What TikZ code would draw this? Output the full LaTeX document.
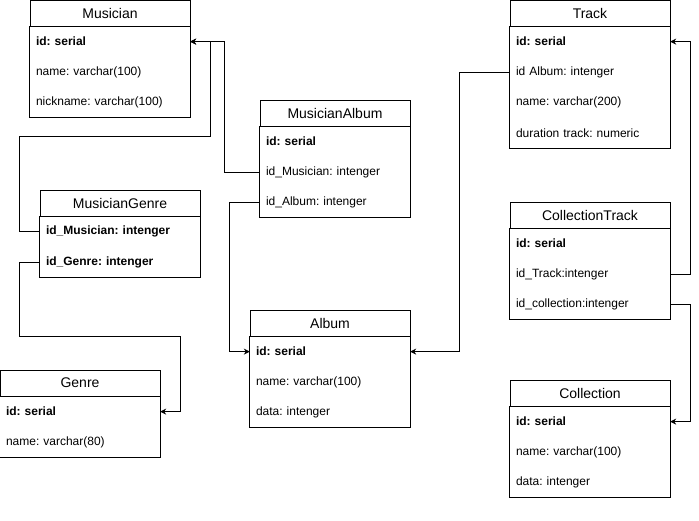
\documentclass[tikz,border=0pt]{standalone}
\usepackage{fontspec}
\setmainfont{Liberation Sans}
\frenchspacing
\usetikzlibrary{arrows.meta, positioning}
\tikzset{
  tblhead/.style={draw,line width=0.8pt,minimum width=#1,minimum height=26pt,inner sep=0pt,font=\fontsize{14}{16}\selectfont},
  tblhead/.default=160pt,
  tblrow/.style={minimum height=30pt,text width=#1,inner xsep=6pt,inner ysep=0pt,align=left,font=\fontsize{12}{14}\selectfont},
  tblrow/.default=148pt,
  tblkey/.style={tblrow=#1,font=\fontsize{12}{14}\selectfont\bfseries},
  tblkey/.default=148pt,
  tblframe/.style={draw,line width=0.8pt},
  fk/.style={line width=0.8pt,-{Stealth[length=6pt,width=6pt]}},
}
\begin{document}
\begin{tikzpicture}[x=1pt,y=-1pt]
	\useasboundingbox (0,0) rectangle (699,520);
	\node[tblhead] (mus) at (110,13) {Musician};
	\node[tblkey,below=0pt of mus] (mus-id) {id: serial};
	\node[tblrow,below=0pt of mus-id] (mus-name) {name: varchar(100)};
	\node[tblrow,below=0pt of mus-name] (mus-nick) {nickname: varchar(100)};
	\draw[tblframe] (mus.south west) rectangle (mus-nick.south east);
	\node[tblhead=150pt] (ma) at (335,113) {MusicianAlbum};
	\node[tblkey=138pt,below=0pt of ma] (ma-id) {id: serial};
	\node[tblrow=138pt,below=0pt of ma-id] (ma-mus) {id\_Musician: intenger};
	\node[tblrow=138pt,below=0pt of ma-mus] (ma-alb) {id\_Album: intenger};
	\draw[tblframe] (ma.south west) rectangle (ma-alb.south east);
	\node[tblhead] (mg) at (120,203) {MusicianGenre};
	\node[tblkey,below=0pt of mg] (mg-mus) {id\_Musician: intenger};
	\node[tblkey,below=0pt of mg-mus] (mg-gen) {id\_Genre: intenger};
	\draw[tblframe] (mg.south west) rectangle (mg-gen.south east);
	\node[tblhead] (gen) at (80,383) {Genre};
	\node[tblkey,below=0pt of gen] (gen-id) {id: serial};
	\node[tblrow,below=0pt of gen-id] (gen-name) {name: varchar(80)};
	\draw[tblframe] (gen.south west) rectangle (gen-name.south east);
	\node[tblhead] (alb) at (330,323) {Album};
	\node[tblkey,below=0pt of alb] (alb-id) {id: serial};
	\node[tblrow,below=0pt of alb-id] (alb-name) {name: varchar(100)};
	\node[tblrow,below=0pt of alb-name] (alb-data) {data: intenger};
	\draw[tblframe] (alb.south west) rectangle (alb-data.south east);
	\node[tblhead] (tr) at (590,13) {Track};
	\node[tblkey,below=0pt of tr] (tr-id) {id: serial};
	\node[tblrow,below=0pt of tr-id] (tr-alb) {id Album: intenger};
	\node[tblrow,below=0pt of tr-alb] (tr-name) {name: varchar(200)};
	\node[tblrow,below=0pt of tr-name] (tr-dur) {duration track: numeric};
	\draw[tblframe] (tr.south west) rectangle (tr-dur.south east);
	\node[tblhead] (ct) at (590,215) {CollectionTrack};
	\node[tblkey,below=0pt of ct] (ct-id) {id: serial};
	\node[tblrow,below=0pt of ct-id] (ct-tr) {id\_Track:intenger};
	\node[tblrow,below=0pt of ct-tr] (ct-col) {id\_collection:intenger};
	\draw[tblframe] (ct.south west) rectangle (ct-col.south east);
	\node[tblhead] (col) at (590,393) {Collection};
	\node[tblkey,below=0pt of col] (col-id) {id: serial};
	\node[tblrow,below=0pt of col-id] (col-name) {name: varchar(100)};
	\node[tblrow,below=0pt of col-name] (col-data) {data: intenger};
	\draw[tblframe] (col.south west) rectangle (col-data.south east);
	\draw[fk] (mg-mus.west) -- ++(-20,0) |- (210,136) |- (mus-id.east);
	\draw[fk] (ma-mus.west) -- ++(-35,0) |- (mus-id.east);
	\draw[fk] (ma-alb.west) -- ++(-30,0) |- (alb-id.west);
	\draw[fk] (mg-gen.west) -- ++(-20,0) |- (180,336) |- (gen-id.east);
	\draw[fk] (tr-alb.west) -- ++(-50,0) |- (alb-id.east);
	\draw[fk] (ct-tr.east) -- ++(20,0) |- (tr-id.east);
	\draw[fk] (ct-col.east) -- ++(20,0) |- (col-id.east);
\end{tikzpicture}
\end{document}
